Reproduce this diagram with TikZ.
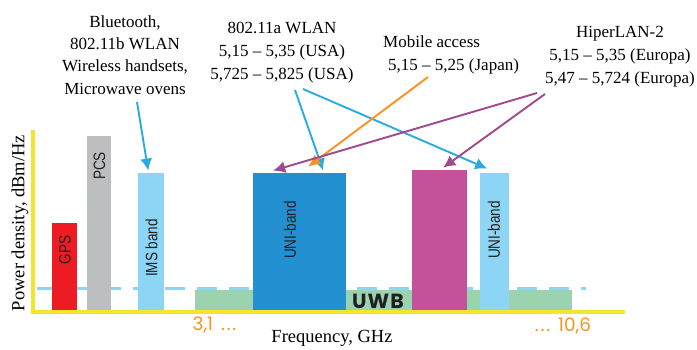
\documentclass[tikz,border=0pt]{standalone}
\usepackage{fontspec}
\setmainfont{Liberation Serif}
\newfontfamily\barfont[FakeStretch=0.82]{Liberation Sans}
\newfontfamily\futfont{Poppins}
\newfontfamily\uwbfont[LetterSpace=5]{Poppins}
\usetikzlibrary{arrows.meta,calc}
\newcommand\spdots{.\hspace{1.8pt}.\hspace{1.8pt}.}
\definecolor{gpsred}{HTML}{ED1C24}
\definecolor{pcsgray}{HTML}{BCBEC0}
\definecolor{imsblue}{HTML}{8DD5F5}
\definecolor{unidark}{HTML}{2391D1}
\definecolor{hipmag}{HTML}{C4529B}
\definecolor{uwbgreen}{HTML}{9BD3AE}
\definecolor{axisyellow}{HTML}{F2E52C}
\definecolor{numorange}{HTML}{F7941D}
\definecolor{arrblue}{HTML}{29ABE2}
\definecolor{arrorange}{HTML}{F7931E}
\definecolor{arrpurple}{HTML}{A3478E}
\definecolor{txtdark}{HTML}{231F20}
\tikzset{
  bar/.style={draw=none, inner sep=0pt, anchor=south west},
  barlbl/.style={rotate=90, font=\barfont\fontsize{16.5}{16.5}\selectfont, text=txtdark, inner sep=0pt},
  lbl/.style={align=center, inner sep=0pt, font=\fontsize{17}{23}\selectfont},
  axlbl/.style={inner sep=0pt, font=\fontsize{18.5}{18.5}\selectfont},
  numlbl/.style={inner sep=0pt, font=\futfont\fontsize{18.5}{18.5}\selectfont, text=numorange},
  arr/.style={line width=1.9pt, -{Latex[length=12pt,width=12pt]}},
  axisline/.style={draw=axisyellow, line width=3.8pt}
}
\begin{document}
\begin{tikzpicture}[x=1pt,y=-1pt]
\useasboundingbox (0,0) rectangle (697,349);
% UWB background
\node[bar, fill=uwbgreen, minimum width=377pt, minimum height=21pt] (uwb) at (195,311) {};
% dashed level line
\draw[imsblue, line width=3pt, dash pattern=on 20pt off 12pt] (37,288.5) -- (586,288.5);
% bars
\node[bar, fill=gpsred,   minimum width=25pt, minimum height=88pt]  (gps)  at (52,311) {};
\node[bar, fill=pcsgray,  minimum width=24pt, minimum height=175pt] (pcs)  at (87,311) {};
\node[bar, fill=imsblue,  minimum width=26pt, minimum height=138pt] (ims)  at (138,311) {};
\node[bar, fill=unidark,  minimum width=93pt, minimum height=138pt] (uni1) at (253,311) {};
\node[bar, fill=hipmag,   minimum width=55pt, minimum height=141pt] (hip)  at (412,311) {};
\node[bar, fill=imsblue,  minimum width=29pt, minimum height=138pt] (uni2) at (480,311) {};
% axes
\coordinate (ytop) at (33,130);
\coordinate (orig) at (33,312);
\coordinate (xend) at (625,312);
\draw[axisline] (ytop) -- (orig) -- (xend);
% bar labels
\node[barlbl] (gpsl)  at (65,250) {GPS};
\node[barlbl] (pcsl)  at (99.5,166) {PCS};
\node[barlbl] (imsl)  at (151.5,248) {IMS band};
\node[barlbl] (uni1l) at (290,230)  {UNI-band};
\node[barlbl] (uni2l) at (494,230)  {UNI-band};
\node[inner sep=0pt, font=\uwbfont\fontseries{sb}\selectfont\fontsize{20.5}{20.5}\selectfont, text=txtdark] (uwbl) at (378,301) {UWB};
\node[numlbl] (f0) at (214.5,325) {3,1\hspace{8pt}\spdots};
\node[numlbl] (f1) at (563,326) {\spdots\hspace{8pt}10,6};
% axis labels
\node[axlbl] (xl) at (332,338) {Frequency, GHz};
\node[axlbl, rotate=90] (yl) at (20,223) {Power density, dBm/Hz};
% top labels
\node[lbl, font=\fontsize{17}{22.3}\selectfont] (bt) at (125,55) {Bluetooth,\\802.11b WLAN\\Wireless handsets,\\Microwave ovens};
\node[lbl] (wlan) at (282,53) {802.11a WLAN\\5,15 -- 5,35 (USA)\\5,725 -- 5,825 (USA)};
\node[lbl, align=left, anchor=west] (mob) at (383,55) {Mobile access\\\hspace{5pt}5,15 -- 5,25 (Japan)};
\node[lbl] (hiper) at (620,57) {HiperLAN-2\\5,15 -- 5,35 (Europa)\\5,47 -- 5,724 (Europa)};
% arrow start points
\coordinate (btS) at (137,102);
\coordinate (wS1) at (295,90);
\coordinate (wS2) at (303,89);
\coordinate (mS)  at (428,77);
\coordinate (hS1) at (537,93);
\coordinate (hS2) at (545,94);
% arrows
\draw[arr, arrblue]   (btS) -- ($(ims.north)+(-3,-2)$);
\draw[arr, arrblue]   (wS1) -- ($(uni1.north)+(23.5,-2)$);
\draw[arr, arrblue]   (wS2) -- ($(uni2.north)+(-7.5,-4)$);
\draw[arr, arrorange] (mS)  -- ($(uni1.north)+(8.5,-6)$);
\draw[arr, arrpurple] (hS1) -- ($(uni1.north)+(-26.5,-2)$);
\draw[arr, arrpurple] (hS2) -- ($(hip.north)+(3.5,-2)$);
\end{tikzpicture}
\end{document}
